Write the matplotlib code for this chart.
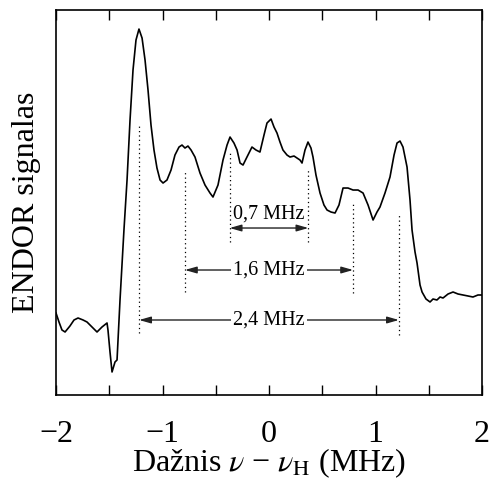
"""ENDOR spektras su hipersmulkiosios sandaros atstumais."""

import matplotlib

matplotlib.use("Agg")

import matplotlib.pyplot as plt
import numpy as np

# Dažnis nu - nu_H (MHz) ir signalas (sant. vnt.), nuskaityta nuo paveikslo
freq = [
    -2.000, -1.972, -1.944, -1.915, -1.869, -1.831, -1.793, -1.746, -1.709, -1.662,
    -1.615, -1.568, -1.521, -1.512, -1.493, -1.474, -1.446, -1.427, -1.399, -1.362,
    -1.333, -1.305, -1.277, -1.249, -1.221, -1.192, -1.164, -1.136, -1.108, -1.080,
    -1.052, -1.023, -0.995, -0.958, -0.920, -0.883, -0.845, -0.817, -0.789, -0.761,
    -0.732, -0.695, -0.648, -0.601, -0.554, -0.526, -0.479, -0.432, -0.394, -0.366,
    -0.329, -0.300, -0.272, -0.244, -0.207, -0.160, -0.122, -0.085, -0.047, -0.019,
    0.019, 0.047, 0.075, 0.103, 0.131, 0.169, 0.197, 0.235, 0.263, 0.291,
    0.310, 0.338, 0.366, 0.394, 0.413, 0.441, 0.479, 0.516, 0.545, 0.582,
    0.620, 0.657, 0.695, 0.742, 0.789, 0.836, 0.883, 0.930, 0.977, 1.014,
    1.042, 1.089, 1.136, 1.174, 1.202, 1.230, 1.258, 1.296, 1.324, 1.343,
    1.371, 1.390, 1.418, 1.437, 1.474, 1.512, 1.540, 1.577, 1.606, 1.634,
    1.681, 1.728, 1.775, 1.822, 1.869, 1.915, 1.962, 2.000,
]
signal = [
    82, 73, 65, 63, 69, 75, 77, 75, 73, 68,
    63, 68, 72, 65, 43, 23, 33, 35, 95, 165,
    215, 275, 325, 355, 366, 357, 335, 305, 270, 245,
    227, 215, 212, 215, 225, 240, 248, 250, 247, 249,
    245, 238, 222, 210, 202, 198, 210, 235, 250, 258,
    252, 245, 232, 230, 238, 248, 245, 243, 260, 272,
    276, 268, 262, 253, 245, 240, 238, 239, 237, 235,
    232, 245, 253, 247, 238, 220, 202, 190, 185, 183,
    182, 190, 207, 207, 205, 205, 202, 190, 175, 183,
    188, 202, 218, 240, 252, 254, 248, 228, 195, 165,
    143, 132, 110, 103, 96, 93, 96, 95, 98, 97,
    101, 103, 101, 100, 99, 98, 100, 100,
]

# Pažymėtos linijų padėtys (MHz) ir punktyrų ribos
mark_pos = [-1.22, -0.79, -0.37, 0.37, 0.79, 1.22]
mark_top = [272, 225, 242, 227, 192, 182]
mark_bottom = [62, 103, 153, 153, 102, 60]

# Atstumai: kairė, dešinė, aukštis, tekstas
split_left = [-0.37, -0.79, -1.22]
split_right = [0.37, 0.79, 1.22]
split_height = [167, 125, 75]
split_labels = ["0,7 MHz", "1,6 MHz", "2,4 MHz"]

x_ticks = [-2, -1.5, -1, -0.5, 0, 0.5, 1, 1.5, 2]
x_ticklabels = ["\u22122", "", "\u22121", "", "0", "", "1", "", "2"]

plt.rcParams["font.family"] = ["Liberation Serif", "DejaVu Serif"]
plt.rcParams["mathtext.fontset"] = "stix"

fig = plt.figure(figsize=(4.9, 4.79), dpi=100)
ax = fig.add_axes([0.1143, 0.1754, 0.8694, 0.8036])

ax.plot(freq, signal, color="black", linewidth=1.2)

for x, top, bottom in zip(mark_pos, mark_top, mark_bottom):
    ax.plot([x, x], [bottom, top], color="black", linestyle=(0, (1, 2.5)), linewidth=0.9)

for idx, (xl, xr, h, lab) in enumerate(zip(split_left, split_right, split_height, split_labels)):
    ax.annotate(
        "",
        xy=(xr, h),
        xytext=(xl, h),
        arrowprops={
            "arrowstyle": "<|-|>,head_length=0.7,head_width=0.2",
            "color": "#222222",
            "linewidth": 1.0,
            "shrinkA": 0,
            "shrinkB": 0,
        },
    )
    if idx == 0:
        ax.text(0, h + 4, lab, ha="center", va="bottom", fontsize=14.5)
    else:
        ax.text(
            0,
            h,
            lab,
            ha="center",
            va="center",
            fontsize=14.5,
            bbox={"boxstyle": "square,pad=0.1", "facecolor": "white", "edgecolor": "none"},
        )

ax.set_xlim(-2, 2)
ax.set_ylim(0, 385)
ax.set_xticks(x_ticks)
ax.set_xticklabels(x_ticklabels, fontsize=23)
ax.set_yticks([])
ax.tick_params(axis="x", direction="in", length=7, width=1.0, top=True, pad=18)
for spine in ax.spines.values():
    spine.set_linewidth(1.2)

ax.set_xlabel("Dažnis $\\nu$ \u2212 $\\nu_{\\mathrm{H}}$ (MHz)", fontsize=23, labelpad=-2)
ax.set_ylabel("ENDOR signalas", fontsize=23, labelpad=11)

plt.savefig("out.png", dpi=100)
plt.close()
